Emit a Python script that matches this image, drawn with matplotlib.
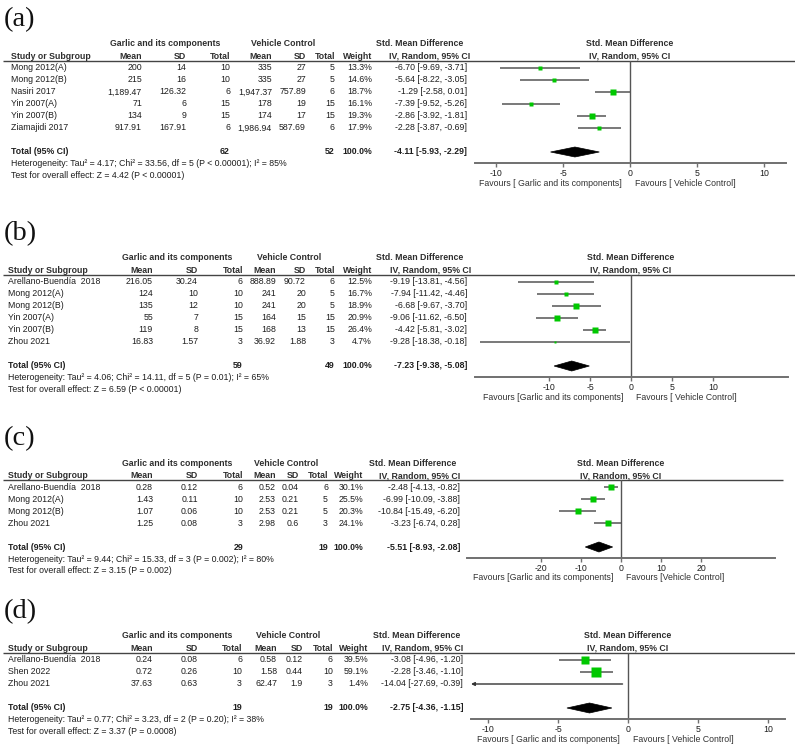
import matplotlib
matplotlib.use("Agg")
import matplotlib.pyplot as plt
from matplotlib.patches import Polygon
import numpy as np

# ---------------- data ----------------
studies_a = ["Mong 2012(A)", "Mong 2012(B)", "Nasiri 2017", "Yin 2007(A)", "Yin 2007(B)", "Ziamajidi 2017"]
g_mean_a = [200, 215, 1189.47, 71, 134, 917.91]
g_sd_a = [14, 16, 126.32, 6, 9, 167.91]
g_n_a = [10, 10, 6, 15, 15, 6]
v_mean_a = [335, 335, 1947.37, 178, 174, 1986.94]
v_sd_a = [27, 27, 757.89, 19, 17, 587.69]
v_n_a = [5, 5, 6, 15, 15, 6]
weight_a = [13.3, 14.6, 18.7, 16.1, 19.3, 17.9]
smd_a = [-6.70, -5.64, -1.29, -7.39, -2.86, -2.28]
lo_a = [-9.69, -8.22, -2.58, -9.52, -3.92, -3.87]
hi_a = [-3.71, -3.05, 0.01, -5.26, -1.81, -0.69]
total_a = [62, 52, -4.11, -5.93, -2.29]
het_a = "Heterogeneity: Tau\u00b2 = 4.17; Chi\u00b2 = 33.56, df = 5 (P < 0.00001); I\u00b2 = 85%"
test_a = "Test for overall effect: Z = 4.42 (P < 0.00001)"
fav_a = ["Favours [ Garlic and its components]", "Favours [ Vehicle Control]"]
ticks_a = [-10, -5, 0, 5, 10]

studies_b = ["Arellano-Buend\u00eda  2018", "Mong 2012(A)", "Mong 2012(B)", "Yin 2007(A)", "Yin 2007(B)", "Zhou 2021"]
g_mean_b = [216.05, 124, 135, 55, 119, 16.83]
g_sd_b = [30.24, 10, 12, 7, 8, 1.57]
g_n_b = [6, 10, 10, 15, 15, 3]
v_mean_b = [888.89, 241, 241, 164, 168, 36.92]
v_sd_b = [90.72, 20, 20, 15, 13, 1.88]
v_n_b = [6, 5, 5, 15, 15, 3]
weight_b = [12.5, 16.7, 18.9, 20.9, 26.4, 4.7]
smd_b = [-9.19, -7.94, -6.68, -9.06, -4.42, -9.28]
lo_b = [-13.81, -11.42, -9.67, -11.62, -5.81, -18.38]
hi_b = [-4.56, -4.46, -3.70, -6.50, -3.02, -0.18]
total_b = [59, 49, -7.23, -9.38, -5.08]
het_b = "Heterogeneity: Tau\u00b2 = 4.06; Chi\u00b2 = 14.11, df = 5 (P = 0.01); I\u00b2 = 65%"
test_b = "Test for overall effect: Z = 6.59 (P < 0.00001)"
fav_b = ["Favours [Garlic and its components]", "Favours [ Vehicle Control]"]
ticks_b = [-10, -5, 0, 5, 10]

studies_c = ["Arellano-Buend\u00eda  2018", "Mong 2012(A)", "Mong 2012(B)", "Zhou 2021"]
g_mean_c = [0.28, 1.43, 1.07, 1.25]
g_sd_c = [0.12, 0.11, 0.06, 0.08]
g_n_c = [6, 10, 10, 3]
v_mean_c = [0.52, 2.53, 2.53, 2.98]
v_sd_c = [0.04, 0.21, 0.21, 0.6]
v_n_c = [6, 5, 5, 3]
weight_c = [30.1, 25.5, 20.3, 24.1]
smd_c = [-2.48, -6.99, -10.84, -3.23]
lo_c = [-4.13, -10.09, -15.49, -6.74]
hi_c = [-0.82, -3.88, -6.20, 0.28]
total_c = [29, 19, -5.51, -8.93, -2.08]
het_c = "Heterogeneity: Tau\u00b2 = 9.44; Chi\u00b2 = 15.33, df = 3 (P = 0.002); I\u00b2 = 80%"
test_c = "Test for overall effect: Z = 3.15 (P = 0.002)"
fav_c = ["Favours [Garlic and its components]", "Favours [Vehicle Control]"]
ticks_c = [-20, -10, 0, 10, 20]

studies_d = ["Arellano-Buend\u00eda  2018", "Shen 2022", "Zhou 2021"]
g_mean_d = [0.24, 0.72, 37.63]
g_sd_d = [0.08, 0.26, 0.63]
g_n_d = [6, 10, 3]
v_mean_d = [0.58, 1.58, 62.47]
v_sd_d = [0.12, 0.44, 1.9]
v_n_d = [6, 10, 3]
weight_d = [39.5, 59.1, 1.4]
smd_d = [-3.08, -2.28, -14.04]
lo_d = [-4.96, -3.46, -27.69]
hi_d = [-1.20, -1.10, -0.39]
total_d = [19, 19, -2.75, -4.36, -1.15]
het_d = "Heterogeneity: Tau\u00b2 = 0.77; Chi\u00b2 = 3.23, df = 2 (P = 0.20); I\u00b2 = 38%"
test_d = "Test for overall effect: Z = 3.37 (P = 0.0008)"
fav_d = ["Favours [ Garlic and its components]", "Favours [ Vehicle Control]"]
ticks_d = [-10, -5, 0, 5, 10]

# ---------------- layout ----------------
W, H = 795, 749
FS = 6.3
SANS = ['Liberation Sans', 'DejaVu Sans']
SERIF = ['Liberation Serif', 'DejaVu Serif']
TXT = '#1e1e1e'
HDR = '#2e2e2e'
GREEN = '#00c800'
LINE = '#555555'

panels = [
    dict(label="(a)", off=0, name_x=11, cols=[142, 186, 230, 272, 306, 335, 372, 467],
         g_hdr=165, v_hdr=283, std_r=463, iv_r=470, x0=630, ppu=13.4, axL=475, axR=786, line_r=795,
         studies=studies_a, gm=g_mean_a, gs=g_sd_a, gn=g_n_a, vm=v_mean_a, vs=v_sd_a, vn=v_n_a,
         w=weight_a, smd=smd_a, lo=lo_a, hi=hi_a, tot=total_a, het=het_a, test=test_a, fav=fav_a, ticks=ticks_a),
    dict(label="(b)", off=214, name_x=8, cols=[153, 198, 243, 276, 306, 335, 372, 467],
         g_hdr=177, v_hdr=289, std_r=463, iv_r=471, x0=631, ppu=8.2, axL=475, axR=788, line_r=795,
         studies=studies_b, gm=g_mean_b, gs=g_sd_b, gn=g_n_b, vm=v_mean_b, vs=v_sd_b, vn=v_n_b,
         w=weight_b, smd=smd_b, lo=lo_b, hi=hi_b, tot=total_b, het=het_b, test=test_b, fav=fav_b, ticks=ticks_b),
    dict(label="(c)", off=419, name_x=8, cols=[153, 198, 243, 276, 299, 328, 363, 460],
         g_hdr=177, v_hdr=286, std_r=456, iv_r=460, x0=621, ppu=4.0, axL=467, axR=775, line_r=783,
         studies=studies_c, gm=g_mean_c, gs=g_sd_c, gn=g_n_c, vm=v_mean_c, vs=v_sd_c, vn=v_n_c,
         w=weight_c, smd=smd_c, lo=lo_c, hi=hi_c, tot=total_c, het=het_c, test=test_c, fav=fav_c, ticks=ticks_c),
    dict(label="(d)", off=592, name_x=8, cols=[153, 198, 242, 277, 303, 333, 368, 463],
         g_hdr=177, v_hdr=288, std_r=460, iv_r=463, x0=628, ppu=14.0, axL=471, axR=785, line_r=795,
         studies=studies_d, gm=g_mean_d, gs=g_sd_d, gn=g_n_d, vm=v_mean_d, vs=v_sd_d, vn=v_n_d,
         w=weight_d, smd=smd_d, lo=lo_d, hi=hi_d, tot=total_d, het=het_d, test=test_d, fav=fav_d, ticks=ticks_d),
]


def fmt_num(v):
    if float(v).is_integer():
        return f"{int(v):,}"
    s = f"{v:,.2f}"
    return s.rstrip('0').rstrip('.') if s.endswith('0') else s


def fmt_ci(m, l, h):
    return f"{m:.2f} [{l:.2f}, {h:.2f}]"


fig = plt.figure(figsize=(W / 100, H / 100), dpi=100)
bg = fig.add_axes([0, 0, 1, 1])
bg.set_xlim(0, W)
bg.set_ylim(H, 0)
bg.axis('off')


def txt(x, y, s, ha='left', bold=False, color=TXT, size=FS):
    bg.text(x, y, s, ha=ha, va='center', fontsize=size, family=SANS,
            fontweight='bold' if bold else 'normal', color=color)


ROW0, STEP = 68, 12

for p in panels:
    off = p['off']
    n = len(p['studies'])
    c = p['cols']
    # label
    bg.text(4, off + 20, p['label'], ha='left', va='center', fontsize=20.5, family=SERIF, color='#111111')
    # headers
    y1, y2, yl = off + 44, off + 56.5, off + 61
    txt(p['g_hdr'], y1, "Garlic and its components", ha='center', bold=True, color=HDR)
    txt(p['v_hdr'], y1, "Vehicle Control", ha='center', bold=True, color=HDR)
    txt(p['std_r'], y1, "Std. Mean Difference", ha='right', bold=True, color=HDR)
    txt(p['x0'], y1, "Std. Mean Difference", ha='center', bold=True, color=HDR)
    txt(p['name_x'], y2, "Study or Subgroup", bold=True, color=HDR)
    for x, s in zip(c[:7], ["Mean", "SD", "Total", "Mean", "SD", "Total", "Weight"]):
        txt(x, y2, s, ha='right', bold=True, color=HDR)
    txt(p['iv_r'], y2, "IV, Random, 95% CI", ha='right', bold=True, color=HDR)
    txt(p['x0'], y2, "IV, Random, 95% CI", ha='center', bold=True, color=HDR)
    bg.plot([3, p['line_r']], [yl, yl], color='#444444', lw=1.0, solid_capstyle='butt')

    # rows
    for i in range(n):
        y = off + ROW0 + STEP * i
        txt(p['name_x'], y, p['studies'][i])
        vals = [p['gm'][i], p['gs'][i], p['gn'][i], p['vm'][i], p['vs'][i], p['vn'][i]]
        for x, v in zip(c[:6], vals):
            txt(x, y, fmt_num(v), ha='right')
        txt(c[6], y, f"{p['w'][i]:.1f}%", ha='right')
        txt(c[7], y, fmt_ci(p['smd'][i], p['lo'][i], p['hi'][i]), ha='right')

    ytot = off + ROW0 + STEP * (n - 1) + 24
    tg, tv, tm, tl, th = p['tot']
    txt(p['name_x'], ytot, "Total (95% CI)", bold=True)
    txt(c[2], ytot, str(tg), ha='right', bold=True)
    txt(c[5], ytot, str(tv), ha='right', bold=True)
    txt(c[6], ytot, "100.0%", ha='right', bold=True)
    txt(c[7], ytot, fmt_ci(tm, tl, th), ha='right', bold=True)
    txt(p['name_x'], ytot + 12, p['het'])
    txt(p['name_x'], ytot + 23.5, p['test'])

    # forest axes
    yaxis = ytot + 11
    top = yl
    ax = fig.add_axes([p['axL'] / W, 1 - yaxis / H, (p['axR'] - p['axL']) / W, (yaxis - top) / H])
    ax.set_xlim((p['axL'] - p['x0']) / p['ppu'], (p['axR'] - p['x0']) / p['ppu'])
    ax.set_ylim((yaxis - (off + ROW0)) / STEP, (top - (off + ROW0)) / STEP)
    ax.patch.set_alpha(0)
    for s in ['top', 'left', 'right']:
        ax.spines[s].set_visible(False)
    ax.spines['bottom'].set_color('#707070')
    ax.spines['bottom'].set_linewidth(1.4)
    ax.set_yticks([])
    ax.set_xticks(p['ticks'])
    ax.set_xticklabels([str(t) for t in p['ticks']])
    ax.tick_params(axis='x', direction='out', length=3, width=1.0, color='#707070',
                   labelsize=FS, labelcolor=TXT, pad=1.5)
    for lab in ax.get_xticklabels():
        lab.set_family(SANS)
    ax.axvline(0, color='#555555', lw=1.0)
    xmin = ax.get_xlim()[0]
    for i in range(n):
        lo, hi, m = p['lo'][i], p['hi'][i], p['smd'][i]
        if lo < xmin:
            ax.annotate('', xy=(xmin, i), xytext=(hi, i),
                        arrowprops=dict(arrowstyle='-|>', color='#333333', lw=1.0,
                                        mutation_scale=5, shrinkA=0, shrinkB=0))
        else:
            ax.plot([lo, hi], [i, i], color=LINE, lw=1.1, solid_capstyle='butt')
        ms = max(0.85 * np.sqrt(p['w'][i]), 1.3)
        ax.plot([m], [i], marker='s', ms=ms, color=GREEN, mec='none', linestyle='none')
    yi = n + 1
    hh = 5 / STEP
    ax.add_patch(Polygon([(tl, yi), (tm, yi - hh), (th, yi), (tm, yi + hh)],
                         closed=True, facecolor='black', edgecolor='black', lw=0.5))

    # favours
    yf = yaxis + 20
    txt(p['x0'] - 8, yf, p['fav'][0], ha='right', color='#333333')
    txt(p['x0'] + 5, yf, p['fav'][1], ha='left', color='#333333')

fig.savefig("out.png", dpi=100, facecolor='white')
